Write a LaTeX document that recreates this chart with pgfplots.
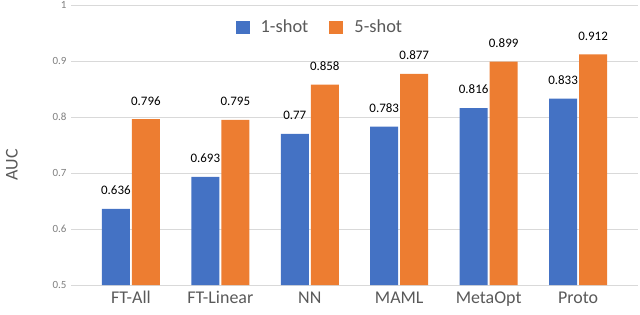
\documentclass[border=0pt]{standalone}
\usepackage{pgfplots}
\pgfplotsset{compat=1.18}
\usepackage{fontspec}
\setmainfont{Carlito}
\definecolor{cblue}{HTML}{4472C4}
\definecolor{corange}{HTML}{ED7D31}
\definecolor{tickgray}{HTML}{7F7F7F}
\definecolor{labgray}{HTML}{595959}
\definecolor{gridgray}{HTML}{D9D9D9}
\begin{document}
\begin{tikzpicture}[x=1bp,y=1bp]
\useasboundingbox (0,0) rectangle (640,314);
\begin{axis}[
  at={(71bp,29bp)}, anchor=south west,
  scale only axis, width=567bp, height=280bp,
  ybar=2bp, bar width=28bp,
  xmin=-0.67, xmax=5.67, ymin=0.5, ymax=1,
  xtick={0,1,2,3,4,5},
  xticklabels={FT-All,FT-Linear,NN,MAML,MetaOpt,Proto},
  ytick={0.5,0.6,0.7,0.8,0.9,1},
  yticklabels={0.5,0.6,0.7,0.8,0.9,1},
  axis line style={draw=none},
  major tick length=0pt,
  ymajorgrids, grid style={gridgray, line width=1bp},
  yticklabel style={font=\fontsize{11}{12}\selectfont, text=tickgray, xshift=-1bp},
  xticklabel style={font=\fontsize{18}{19}\selectfont, text=labgray, yshift=-3bp},
  ylabel={AUC},
  ylabel style={font=\fontsize{18}{19}\selectfont, text=labgray, yshift=28bp, xshift=-20bp},
  nodes near coords,
  every node near coord/.append style={font=\fontsize{13}{14}\selectfont, text=black, yshift=10.5bp},
  point meta=explicit symbolic,
  legend style={at={(0.439,0.921)}, anchor=center, draw=none, fill=none, legend columns=2,
    font=\fontsize{18.5}{19}\selectfont, text=labgray,
    /tikz/every even column/.append style={column sep=19bp}},
  legend image code/.code={\fill[#1] (0bp,-6.5bp) rectangle (14bp,6.5bp); \path (23bp,0bp);},
]
\addplot[fill=cblue, draw=none] coordinates {(0,0.636)[0.636] (1,0.693)[0.693] (2,0.770)[0.77] (3,0.783)[0.783] (4,0.816)[0.816] (5,0.833)[0.833]};
\addplot[fill=corange, draw=none] coordinates {(0,0.796)[0.796] (1,0.795)[0.795] (2,0.858)[0.858] (3,0.877)[0.877] (4,0.899)[0.899] (5,0.912)[0.912]};
\legend{1-shot,5-shot}
\end{axis}
\end{tikzpicture}
\end{document}
